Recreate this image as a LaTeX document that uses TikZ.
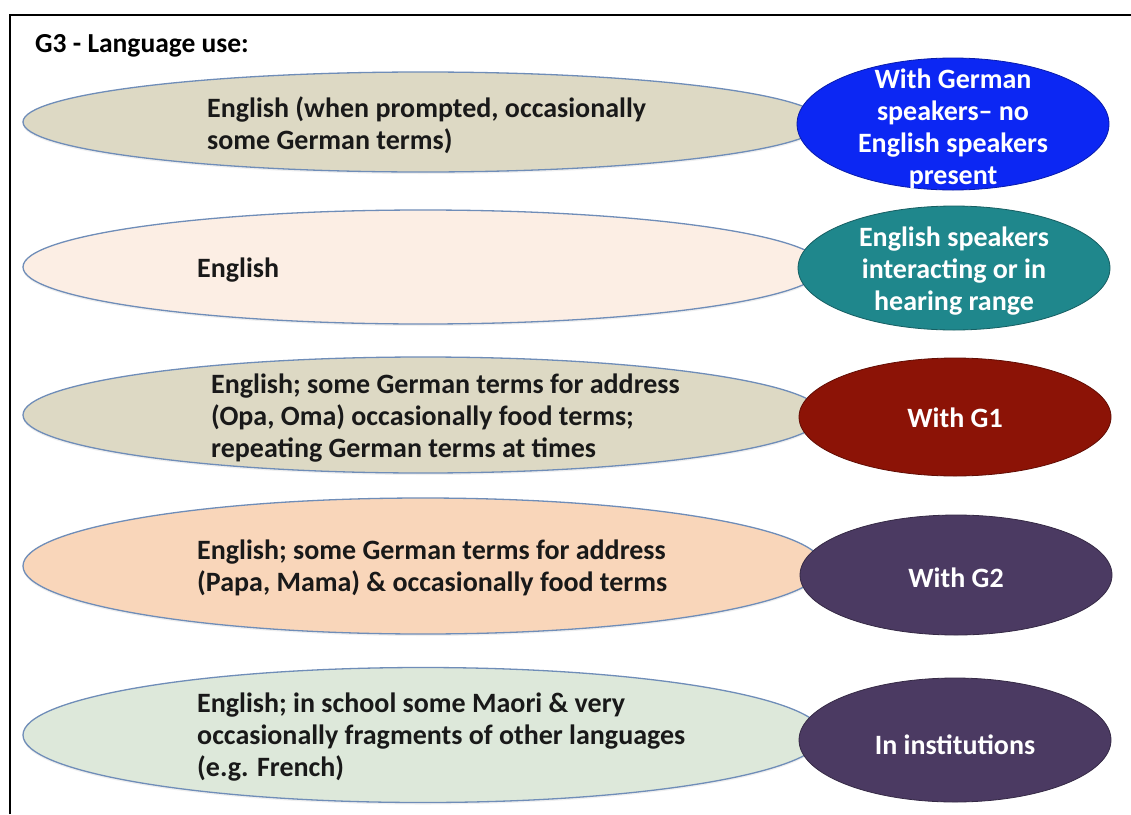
\documentclass[tikz,border=0pt]{standalone}
\usepackage{fontspec}
\setmainfont{Carlito}
\usetikzlibrary{shapes.geometric,shadows}
\definecolor{tanc}{HTML}{DDD9C4}
\definecolor{peachlight}{HTML}{FCEEE4}
\definecolor{peachc}{HTML}{F9D6BA}
\definecolor{greenc}{HTML}{DDE8DA}
\definecolor{bluec}{HTML}{0C27F3}
\definecolor{tealc}{HTML}{1F878C}
\definecolor{redc}{HTML}{8C1306}
\definecolor{purplec}{HTML}{4B3A62}
\definecolor{edgec}{HTML}{6F8DB8}
\tikzset{
  leftell/.style={ellipse, draw=edgec, line width=1.3pt, inner sep=0pt,
    minimum width=800pt, drop shadow={opacity=0.12, shadow xshift=0pt, shadow yshift=-2pt}},
  rightell/.style={ellipse, line width=0.8pt, inner sep=0pt, minimum width=312pt},
  lefttext/.style={anchor=west, align=left, inner sep=0pt, text=black!90,
    font=\fontsize{28}{31.8}\selectfont\bfseries},
  righttext/.style={align=center, inner sep=0pt, text=white,
    font=\fontsize{28}{31.8}\selectfont\bfseries},
  frameline/.style={line width=1.8pt, black}
}
\begin{document}
\begin{tikzpicture}[x=1pt,y=-1pt]
\useasboundingbox (0,0) rectangle (1131,814);
\fill[white] (0,0) rectangle (1131,814);
% frame
\coordinate (fbl) at (10,814);
\coordinate (ftl) at (10,15);
\coordinate (ftr) at (1131,15);
\draw[frameline] (fbl) -- (ftl) -- (ftr);
\node[anchor=west, inner sep=0pt, font=\fontsize{27.5}{31}\selectfont\bfseries] (title) at (35,46) {G3 - Language use:};
% left ellipses
\node[leftell, fill=tanc, minimum height=100pt] (l1) at (423,122) {};
\node[leftell, fill=peachlight, minimum height=114pt] (l2) at (423,267) {};
\node[leftell, fill=tanc, minimum height=116pt] (l3) at (423,415) {};
\node[leftell, fill=peachc, minimum height=136pt] (l4) at (423,566) {};
\node[leftell, fill=greenc, minimum height=135pt] (l5) at (423,735) {};
% right ellipses
\node[rightell, fill=bluec, draw=bluec!70!black, minimum height=132pt] (r1) at (953,124) {};
\node[rightell, fill=tealc, draw=tealc!70!black, minimum height=124pt] (r2) at (954,268) {};
\node[rightell, fill=redc, draw=redc!70!black, minimum height=118pt] (r3) at (955,417) {};
\node[rightell, fill=purplec, draw=purplec!70!black, minimum height=120pt] (r4) at (956,575) {};
\node[rightell, fill=purplec, draw=purplec!70!black, minimum height=124pt] (r5) at (955,740) {};
% left texts
\node[lefttext] (t1) at (207,125) {English (when prompted, occasionally\\some German terms)};
\node[lefttext] (t2) at (197,270) {English};
\node[lefttext] (t3) at (211,418) {English; some German terms for address\\(Opa, Oma) occasionally food terms;\\repeating German terms at times};
\node[lefttext] (t4) at (197,568) {English; some German terms for address\\(Papa, Mama) \& occasionally food terms};
\node[lefttext] (t5) at (197,737) {English; in school some Maori \& very\\occasionally fragments of other languages\\(e.g. French)};
% right texts
\node[righttext] (s1) at (953,129) {With German\\speakers-- no\\English speakers\\present};
\node[righttext] (s2) at (954,271) {English speakers\\interacting or in\\hearing range};
\node[righttext] (s3) at (955,418) {With G1};
\node[righttext] (s4) at (956,578) {With G2};
\node[righttext] (s5) at (955,745) {In institutions};
\end{tikzpicture}
\end{document}
